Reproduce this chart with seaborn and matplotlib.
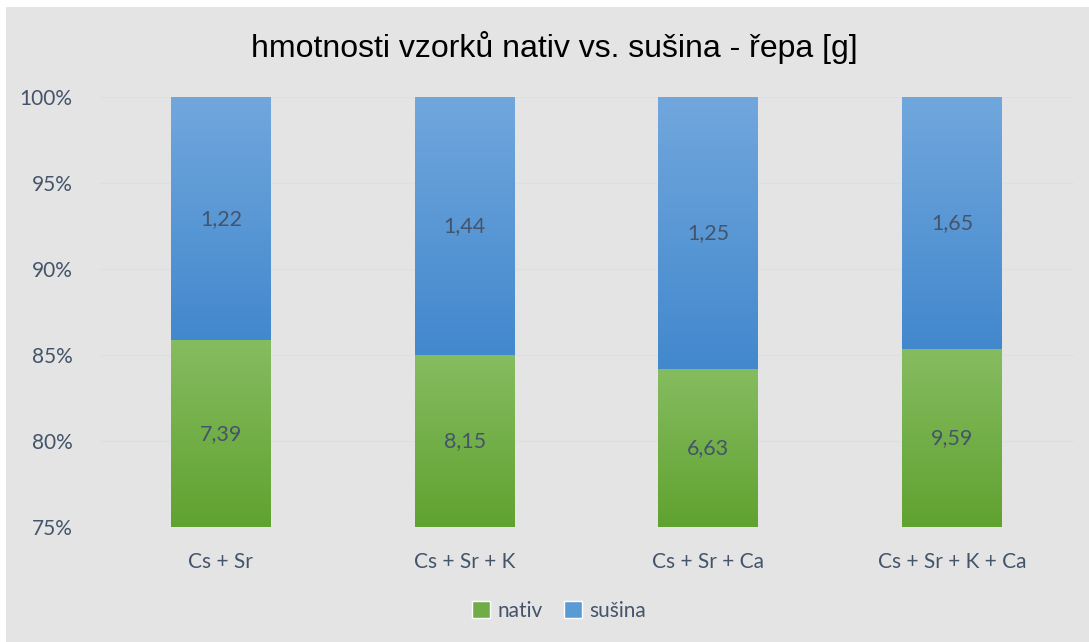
import matplotlib
matplotlib.use("Agg")
import matplotlib.pyplot as plt
import seaborn as sns
import numpy as np
import pandas as pd
from matplotlib.colors import LinearSegmentedColormap
from matplotlib.patches import Rectangle

categories = ["Cs + Sr", "Cs + Sr + K", "Cs + Sr + Ca", "Cs + Sr + K + Ca"]
nativ = [7.39, 8.15, 6.63, 9.59]
susina = [1.22, 1.44, 1.25, 1.65]
series_names = ["nativ", "sušina"]
yticks = [75, 80, 85, 90, 95, 100]

total = [a + b for a, b in zip(nativ, susina)]
nativ_pct = [a / t * 100 for a, t in zip(nativ, total)]
susina_pct = [b / t * 100 for b, t in zip(susina, total)]
df = pd.DataFrame({"cat": categories, "nativ": nativ_pct, "top": [100.0] * len(categories)})

sns.set_theme(style="white")
plt.rcParams["font.family"] = ["Lato", "DejaVu Sans"]

BG = "#e4e4e4"
TXT = "#44546a"
fig = plt.figure(figsize=(10.89, 6.42), dpi=100, facecolor="white")
fig.patches.append(Rectangle((6 / 1089, 0), 1 - 6 / 1089, 1 - 7 / 642, transform=fig.transFigure,
                             facecolor=BG, edgecolor="none", zorder=-10))
ax = fig.add_axes([99 / 1089, 1 - 527 / 642, (1074 - 99) / 1089, (527 - 97) / 642])
ax.set_facecolor(BG)

width = 0.41
sns.barplot(data=df, x="cat", y="top", color="#5b9bd5", width=width, ax=ax, zorder=3)
n_blue = len(ax.patches)
sns.barplot(data=df, x="cat", y="nativ", color="#70ad47", width=width, ax=ax, zorder=4)

ax.set_ylim(75, 100)
ax.set_xlim(-0.5, len(categories) - 0.5)

blue_cmap = LinearSegmentedColormap.from_list("b", ["#4288cd", "#71a7dd"])
green_cmap = LinearSegmentedColormap.from_list("g", ["#60a230", "#86bc60"])
grad = np.linspace(0, 1, 256).reshape(-1, 1)
for i, p in enumerate(list(ax.patches)):
    x0 = p.get_x()
    w = p.get_width()
    if i < n_blue:
        y0 = nativ_pct[i]
        y1 = 100
        cmap = blue_cmap
        z = 3
    else:
        y0 = 75
        y1 = p.get_height()
        cmap = green_cmap
        z = 4
    p.set_visible(False)
    ax.imshow(grad, extent=[x0, x0 + w, y0, y1], origin="lower", aspect="auto",
              cmap=cmap, zorder=z, interpolation="bilinear")

ax.set_xlim(-0.5, len(categories) - 0.5)
ax.set_ylim(75, 100)

# data labels
for i in range(len(categories)):
    ax.text(i, (75 + nativ_pct[i]) / 2, f"{nativ[i]:.2f}".replace(".", ","), ha="center", va="center",
            fontsize=15.5, color=TXT, zorder=6)
    ax.text(i, (nativ_pct[i] + 100) / 2, f"{susina[i]:.2f}".replace(".", ","), ha="center", va="center",
            fontsize=15.5, color=TXT, zorder=6)

ax.set_yticks(yticks)
ax.set_yticklabels([f"{v}%" for v in yticks])
ax.yaxis.grid(True, color="#dae0e8", linewidth=1.0, zorder=0)
ax.set_axisbelow(True)
for s in ax.spines.values():
    s.set_visible(False)
ax.tick_params(axis="both", length=0, labelsize=15, colors=TXT)
ax.tick_params(axis="y", pad=19)
ax.tick_params(axis="x", pad=18)
ax.set_xlabel("")
ax.set_ylabel("")

fig.text(554 / 1089, 1 - 47 / 642, "hmotnosti vzorků nativ vs. sušina - řepa [g]", ha="center", va="center",
         fontsize=23, color="#000000", family=["Liberation Sans", "DejaVu Sans"])

handles = [Rectangle((0, 0), 1, 1, facecolor="#70ad47"), Rectangle((0, 0), 1, 1, facecolor="#5b9bd5")]
fig.legend(handles, series_names, loc="center", bbox_to_anchor=(559 / 1089, 1 - 611 / 642), ncol=2,
           frameon=False, fontsize=15, handlelength=0.9, handleheight=0.9, handletextpad=0.35,
           columnspacing=1.0, labelcolor=TXT)

fig.savefig("out.png", dpi=100, facecolor="white")
